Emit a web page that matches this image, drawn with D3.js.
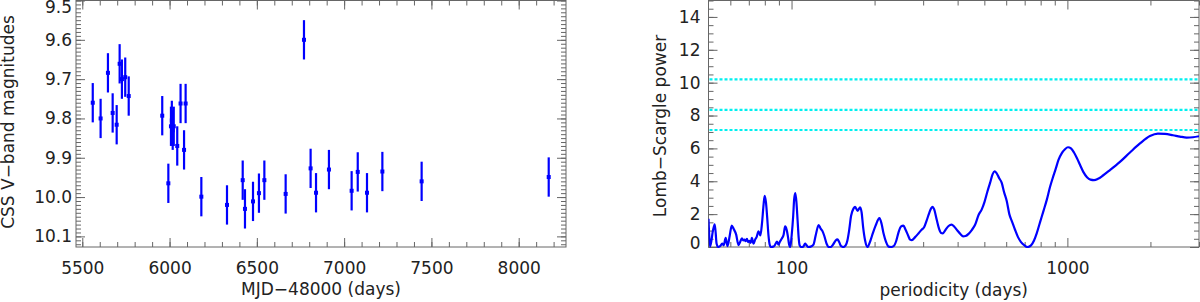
<!DOCTYPE html>
<html>
<head>
<meta charset="utf-8">
<script src="https://cdn.jsdelivr.net/npm/d3@7"></script>
<style>
  body { margin: 0; background: #fff; }
  svg { display: block; }
  text { font-family: "DejaVu Sans", sans-serif; font-size: 17px; fill: #222; }
  .axis path.domain { display: none; }
  .axis line { stroke: #666; }
</style>
</head>
<body>
<div id="chartContainer"></div>
<script>
// light curve: MJD-48000 (days), CSS V-band magnitude, error
var mjd = [5560, 5605, 5647, 5674, 5697, 5714, 5727, 5746, 5766, 5958, 5993, 6008, 6013, 6018, 6024,
           6044, 6063, 6083, 6092, 6182, 6329, 6419, 6432, 6478, 6512, 6543, 6665, 6770, 6808, 6839,
           6913, 7043, 7078, 7131, 7219, 7444, 8172];
var mag = [9.760, 9.800, 9.684, 9.786, 9.816, 9.661, 9.700, 9.695, 9.743, 9.793, 9.965, 9.820, 9.805, 9.830, 9.820,
           9.870, 9.762, 9.880, 9.762, 9.999, 10.020, 9.957, 10.030, 10.011, 9.990, 9.957, 9.992, 9.600, 9.927, 9.989,
           9.930, 9.984, 9.936, 9.989, 9.935, 9.960, 9.949];
var magErr = [0.05, 0.05, 0.05, 0.05, 0.05, 0.05, 0.05, 0.05, 0.05, 0.05, 0.05, 0.05, 0.05, 0.05, 0.05,
              0.05, 0.05, 0.05, 0.05, 0.05, 0.05, 0.05, 0.05, 0.05, 0.05, 0.05, 0.05, 0.05, 0.05, 0.05,
              0.05, 0.05, 0.05, 0.05, 0.05, 0.05, 0.05];

// periodogram: period (days) vs Lomb-Scargle power
var period = [50.0, 50.7, 51.9, 52.7, 53.5, 54.2, 55.1, 56.05, 56.76, 57.7, 58.6, 59.7, 60.7, 61.6, 63.0,
  64.2, 65.1, 66.1, 66.8, 67.5, 68.2, 68.9, 69.6, 70.4, 71.1, 71.8, 72.8, 73.8, 74.7, 75.9,
  77.1, 78.2, 79.2, 79.9, 80.8, 81.6, 82.5, 83.3, 84.1, 85.8, 86.9, 88.5, 89.7, 90.9, 92.1,
  93.6, 94.8, 96.0, 97.1, 98.0, 98.9, 100.1, 101.4, 102.2, 103.2, 104.2, 105.2, 106.1, 107.0, 108.4,
  110.2, 112.0, 113.4, 115.2, 117.3, 120.1, 122.3, 125.4, 127.5, 129.1, 131.3, 134.0, 136.3, 138.6, 141.5,
  144.5, 146.7, 148.8, 151.3, 154.2, 157.1, 159.4, 161.7, 164.4, 167.9, 170.0, 173.6, 177.3, 179.5, 181.8,
  184.8, 188.7, 191.9, 195.9, 201.7, 208.3, 212.1, 215.7, 220.2, 224.9, 229.6, 234.4, 239.4, 244.4, 249.6,
  254.4, 259.1, 264.6, 269.0, 272.9, 280.5, 288.3, 296.1, 302.4, 308.8, 315.3, 320.6, 324.6, 328.7, 336.2,
  342.7, 348.5, 353.4, 361.8, 371.0, 380.4, 388.4, 399.2, 410.0, 418.7, 427.5, 438.3, 450.1, 462.8, 476.4,
  489.3, 500.8, 512.7, 524.4, 535.4, 544.4, 553.6, 565.3, 578.1, 589.3, 602.7, 615.9, 629.9, 645.9, 662.2,
  679.0, 699.2, 716.8, 738.1, 756.9, 774.1, 795.7, 819.2, 841.4, 864.9, 886.8, 907.0, 928.4, 953.5, 980.1,
  1004.9, 1030.3, 1056.7, 1083.5, 1110.9, 1141.9, 1177.8, 1212.7, 1248.6, 1290.9, 1345.9, 1426.8, 1550.9, 1686, 1833,
  1992, 2129, 2258, 2414, 2559, 2706, 2852, 2999];
var power = [1.72, 0.02, 1.0, 1.38, 0.2, 0.0, 0.05, 0.2, 0.1, 0.55, 0.05, 0.7, 1.3, 1.12, 0.75,
  0.12, 0.3, 0.53, 0.4, 0.45, 0.35, 0.5, 0.3, 0.38, 0.25, 0.55, 0.2, 0.45, 0.6, 0.95,
  0.7, 1.5, 2.6, 3.12, 2.7, 1.8, 0.7, 0.15, 0.0, 0.02, 0.1, 0.33, 0.15, 0.35, 0.5,
  0.75, 1.25, 1.05, 0.6, 0.15, 0.0, 0.7, 1.9, 2.9, 3.28, 2.7, 1.6, 0.6, 0.1, 0.0,
  0.02, 0.2, 0.1, 0.0, 0.02, 0.15, 0.7, 1.34, 1.12, 1.0, 0.7, 0.2, 0.0, 0.0, 0.15,
  0.4, 0.47, 0.3, 0.05, 0.0, 0.1, 0.4, 1.0, 1.9, 2.35, 2.45, 2.2, 2.42, 2.1, 1.2,
  0.4, 0.0, 0.25, 0.7, 1.3, 1.76, 1.4, 0.8, 0.3, 0.02, 0.0, 0.05, 0.35, 0.9, 1.25,
  1.3, 1.05, 0.7, 0.45, 0.42, 0.6, 0.82, 1.05, 1.2, 1.6, 2.05, 2.35, 2.45, 2.3, 1.64,
  1.1, 0.85, 0.83, 1.05, 1.28, 1.36, 1.25, 1.0, 0.78, 0.65, 0.67, 0.8, 1.03, 1.35, 1.95,
  2.29, 2.75, 3.36, 3.9, 4.42, 4.6, 4.5, 4.2, 3.9, 3.35, 2.8, 2.0, 1.55, 1.05, 0.6,
  0.3, 0.1, 0.0, 0.1, 0.4, 0.83, 1.5, 2.2, 2.85, 3.65, 4.25, 4.75, 5.3, 5.7, 5.95,
  6.07, 6.0, 5.75, 5.4, 5.0, 4.57, 4.25, 4.1, 4.07, 4.15, 4.35, 4.68, 5.18, 5.75, 6.3,
  6.75, 6.9, 6.88, 6.8, 6.72, 6.66, 6.68, 6.74];
// significance levels (dotted cyan)
var sigLevels = [10.2, 8.34, 7.12];

var lcMajorX = [5500, 6000, 6500, 7000, 7500, 8000];
var lcMajorY = [9.5, 9.6, 9.7, 9.8, 9.9, 10.0, 10.1];
var psMajorX = [100, 1000];
var psMinorX = [60, 70, 80, 90, 200, 300, 400, 500, 600, 700, 800, 900, 2000, 3000];
var psMajorY = [0, 2, 4, 6, 8, 10, 12, 14];

var svg = d3.select("#chartContainer").append("svg")
  .attr("width", 1200).attr("height", 302);

// ---------- left panel: light curve ----------
var L = {left: 76, right: 566, top: 0.5, bottom: 247};
var x1 = d3.scaleLinear().domain([5464, 8271]).range([L.left, L.right]);
var y1 = d3.scaleLinear().domain([9.5, 10.127]).range([L.top, L.bottom]);

function range(a, b, s) { return d3.range(Math.round((b - a) / s) + 1).map(function(i) { return +(a + i * s).toFixed(4); }); }
var lcMinorX = range(5500, 8200, 100);
var lcMinorY = range(9.5, 10.12, 0.01);

function axes(g, xs, ys, box, xMaj, xMin, yMaj, yMin, xFmt, yFmt, xPad, yPad) {
  g.append("g").attr("class", "axis").attr("transform", "translate(0," + box.bottom + ")")
    .call(d3.axisBottom(xs).tickValues(xMin).tickSize(-5).tickFormat(""));
  g.append("g").attr("class", "axis").attr("transform", "translate(0," + box.bottom + ")")
    .call(d3.axisBottom(xs).tickValues(xMaj).tickSize(-9).tickPadding(xPad).tickFormat(xFmt));
  g.append("g").attr("class", "axis").attr("transform", "translate(0," + box.top + ")")
    .call(d3.axisTop(xs).tickValues(xMin).tickSize(-5).tickFormat(""));
  g.append("g").attr("class", "axis").attr("transform", "translate(0," + box.top + ")")
    .call(d3.axisTop(xs).tickValues(xMaj).tickSize(-9).tickFormat(""));
  g.append("g").attr("class", "axis").attr("transform", "translate(" + box.left + ",0)")
    .call(d3.axisLeft(ys).tickValues(yMin).tickSize(-5).tickFormat(""));
  var ya = g.append("g").attr("class", "axis").attr("transform", "translate(" + box.left + ",0)")
    .call(d3.axisLeft(ys).tickValues(yMaj).tickSize(-9).tickPadding(yPad).tickFormat(yFmt));
  g.append("g").attr("class", "axis").attr("transform", "translate(" + box.right + ",0)")
    .call(d3.axisRight(ys).tickValues(yMin).tickSize(-5).tickFormat(""));
  g.append("g").attr("class", "axis").attr("transform", "translate(" + box.right + ",0)")
    .call(d3.axisRight(ys).tickValues(yMaj).tickSize(-9).tickFormat(""));
  g.selectAll(".axis text").attr("font-size", null).attr("font-family", null).attr("fill", null);
  g.append("rect").attr("x", box.left).attr("y", box.top)
    .attr("width", box.right - box.left).attr("height", box.bottom - box.top)
    .attr("fill", "none").attr("stroke", "#666").attr("stroke-width", 1);
  return ya;
}

var g1 = svg.append("g");
var ya1 = axes(g1, x1, y1, L, lcMajorX, lcMinorX, lcMajorY, lcMinorY, d3.format("d"), d3.format(".1f"), 15, 4);
ya1.selectAll("text").filter(function(d) { return d === 9.5; }).attr("dy", "0.7em");

var pts = mjd.map(function(d, i) { return {t: d, m: mag[i], e: magErr[i]}; });
g1.selectAll("line.err").data(pts).enter().append("line").attr("class", "err")
  .attr("x1", function(d) { return x1(d.t); }).attr("x2", function(d) { return x1(d.t); })
  .attr("y1", function(d) { return y1(d.m - d.e); }).attr("y2", function(d) { return y1(d.m + d.e); })
  .attr("stroke", "#0000ff").attr("stroke-width", 2.2);
g1.selectAll("rect.pt").data(pts).enter().append("rect").attr("class", "pt")
  .attr("x", function(d) { return x1(d.t) - 2; }).attr("y", function(d) { return y1(d.m) - 2; })
  .attr("width", 4).attr("height", 4).attr("fill", "#0000ff");

g1.append("text").attr("x", (L.left + L.right) / 2).attr("y", 295)
  .attr("text-anchor", "middle").text("MJD\u221248000 (days)");
g1.append("text").attr("transform", "translate(14,122) rotate(-90)")
  .attr("text-anchor", "middle").text("CSS V\u2212band magnitudes");

// ---------- right panel: Lomb-Scargle periodogram ----------
var R = {left: 708.5, right: 1199, top: 0.5, bottom: 247};
var x2 = d3.scaleLog().domain([50, 3000]).range([R.left, R.right]);
var y2 = d3.scaleLinear().domain([0, 15]).range([R.bottom, R.top]);
var psMinorY = range(0, 15, 0.5);

var g2 = svg.append("g");
var ya2 = axes(g2, x2, y2, R, psMajorX, psMinorX, psMajorY, psMinorY, d3.format("d"), d3.format("d"), 15, 8);
ya2.selectAll("text").filter(function(d) { return d === 0; }).attr("dy", "0.06em");

g2.append("clipPath").attr("id", "clipR").append("rect")
  .attr("x", R.left).attr("y", R.top).attr("width", R.right - R.left).attr("height", R.bottom - R.top + 1);

g2.selectAll("line.sig").data(sigLevels).enter().append("line").attr("class", "sig")
  .attr("x1", R.left + 1).attr("x2", R.right - 1)
  .attr("y1", function(d) { return y2(d); }).attr("y2", function(d) { return y2(d); })
  .attr("stroke", "#00f0f0").attr("stroke-width", 2.2).attr("stroke-dasharray", "3,2");

var ps = period.map(function(d, i) { return [d, power[i]]; });
g2.append("path").datum(ps)
  .attr("clip-path", "url(#clipR)")
  .attr("fill", "none").attr("stroke", "#0000ff").attr("stroke-width", 2.2)
  .attr("stroke-linejoin", "round")
  .attr("d", d3.line().x(function(d) { return x2(d[0]); }).y(function(d) { return y2(d[1]); })
    .curve(d3.curveMonotoneX));

g2.append("text").attr("x", (R.left + R.right) / 2).attr("y", 296)
  .attr("text-anchor", "middle").text("periodicity (days)");
g2.append("text").attr("transform", "translate(665.5,126) rotate(-90)")
  .attr("text-anchor", "middle").text("Lomb\u2212Scargle power");
</script>
</body>
</html>
